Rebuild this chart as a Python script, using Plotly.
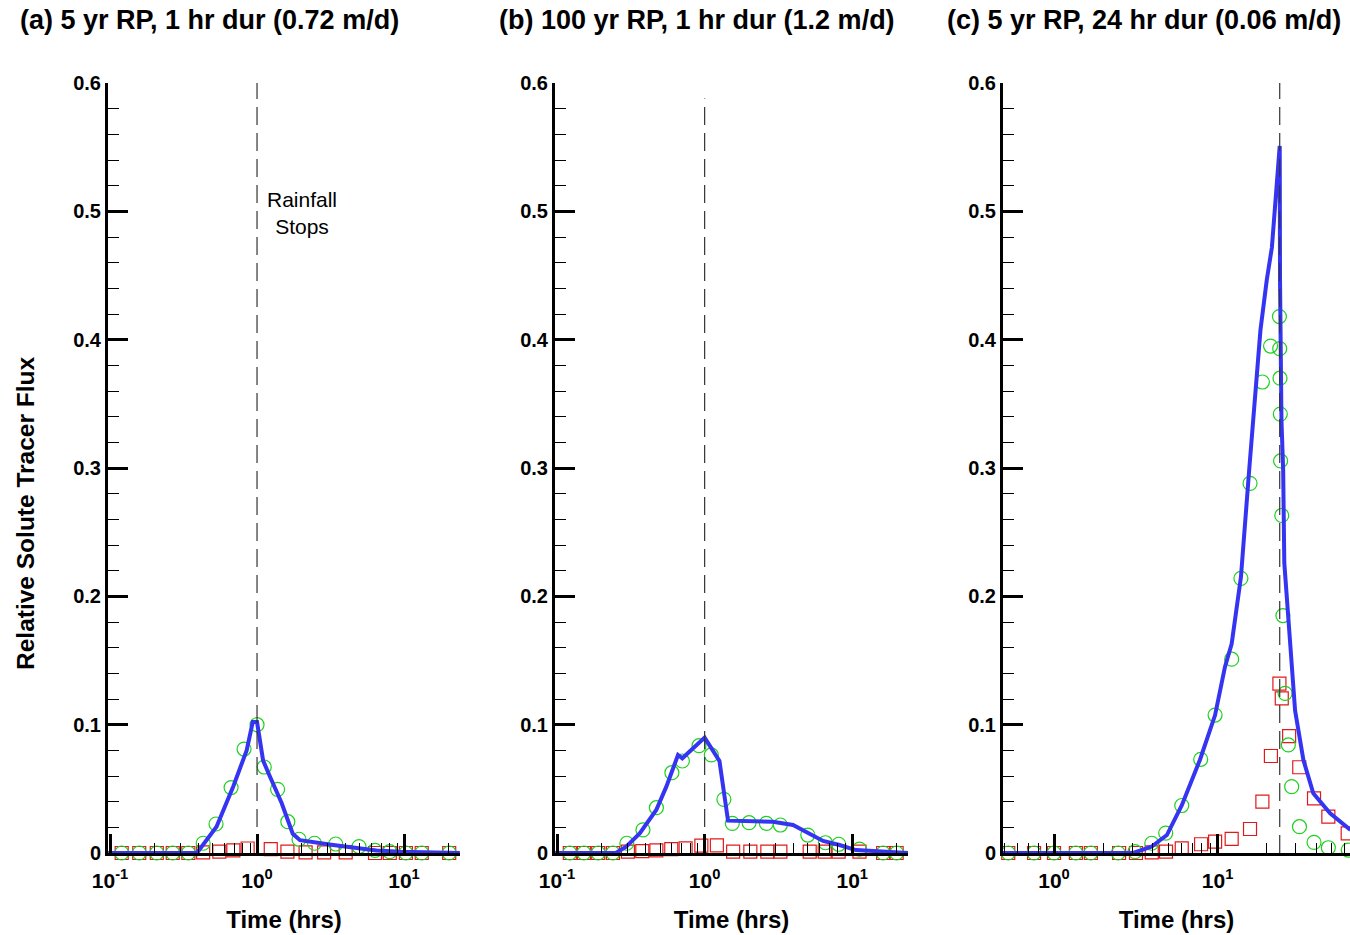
import plotly.graph_objects as go

# ---------------- DATA ----------------
panel_titles = [
    "(a) 5 yr RP, 1 hr dur (0.72 m/d)",
    "(b) 100 yr RP, 1 hr dur (1.2 m/d)",
    "(c) 5 yr RP, 24 hr dur (0.06 m/d)",
]
stop_times = [1.0, 1.0, 24.0]

# Panel (a)
a_circ_x = [0.12, 0.158, 0.208, 0.267, 0.341, 0.43, 0.526, 0.666, 0.816, 1.0, 1.12, 1.38, 1.62,
            1.93, 2.46, 3.43, 4.94, 6.35, 8.0, 10.3, 13.2, 20.3]
a_circ_y = [0, 0, 0, 0, 0, 0.0076, 0.0226, 0.051, 0.081, 0.100, 0.067, 0.0496, 0.0244,
            0.0107, 0.0076, 0.007, 0.005, 0.002, 0.001, 0, 0, 0]
a_sq_x = [0.12, 0.158, 0.208, 0.267, 0.341, 0.43, 0.554, 0.69, 0.863, 1.24, 1.61, 2.14, 2.86,
          4.01, 6.35, 8.0, 10.3, 13.2, 20.3]
a_sq_y = [0, 0, 0, 0, 0, 0.0005, 0.001, 0.002, 0.0035, 0.003, 0.001, 0.0005, 0.0005,
          0.0005, 0, 0, 0, 0, 0]
a_line_x = [0.097, 0.39, 0.53, 0.69, 0.85, 0.935, 1.0, 1.10, 1.23, 1.47, 1.75, 1.96, 3.3, 5.0,
            6.5, 9.4, 24.0]
a_line_y = [0, 0, 0.0205, 0.052, 0.080, 0.102, 0.102, 0.072, 0.059, 0.039, 0.015, 0.010,
            0.0062, 0.0036, 0.002, 0.001, 0]

# Panel (b)
b_circ_x = [0.122, 0.152, 0.19, 0.239, 0.297, 0.382, 0.471, 0.60, 0.706, 0.916, 1.11, 1.35,
            1.54, 2.0, 2.62, 3.26, 5.0, 6.58, 8.1, 11.2, 16.2, 20.0]
b_circ_y = [0, 0, 0, 0, 0.0076, 0.018, 0.0353, 0.0626, 0.0717, 0.0836, 0.0764, 0.0418,
            0.0231, 0.0236, 0.0231, 0.0218, 0.014, 0.008, 0.0068, 0.003, 0, 0]
b_sq_x = [0.122, 0.152, 0.19, 0.239, 0.302, 0.378, 0.471, 0.594, 0.743, 0.95, 1.21, 1.56,
          2.04, 2.66, 3.26, 5.15, 6.51, 8.09, 11.2, 16.2, 20.0]
b_sq_y = [0, 0, 0, 0, 0.001, 0.0015, 0.002, 0.003, 0.0036, 0.0057, 0.006, 0.001, 0.001,
          0.001, 0.001, 0.001, 0.001, 0.001, 0.001, 0, 0]
b_line_x = [0.097, 0.25, 0.294, 0.363, 0.47, 0.55, 0.66, 0.706, 1.0, 1.26, 1.44, 2.9, 3.97,
            6.35, 8.2, 10.6, 24.6]
b_line_y = [0, 0, 0.005, 0.0153, 0.0335, 0.0517, 0.0764, 0.0738, 0.0899, 0.0717, 0.0252,
            0.0244, 0.0218, 0.0094, 0.0062, 0.0023, 0]

# Panel (c)
c_circ_x = [0.525, 0.755, 1.0, 1.36, 1.68, 2.47, 3.13, 3.96, 4.82, 6.04, 7.89, 9.66, 12.2,
            13.9, 15.8, 18.8, 21.1, 23.9, 24.0, 24.1, 24.2, 24.3, 24.7, 25.1, 25.9, 27.1,
            28.4, 31.7, 38.9, 47.6, 63.0]
c_circ_y = [0, 0, 0, 0, 0, 0, 0.001, 0.0076, 0.0155, 0.037, 0.073, 0.1075, 0.151, 0.214,
            0.288, 0.367, 0.395, 0.418, 0.393, 0.370, 0.342, 0.3055, 0.263, 0.185, 0.1244,
            0.0842, 0.0517, 0.0205, 0.0083, 0.0041, 0.0023]
c_sq_x = [0.525, 0.755, 1.0, 1.36, 1.68, 2.5, 3.17, 3.96, 4.84, 6.04, 7.93, 9.66, 12.2, 15.8,
          18.8, 21.2, 23.9, 24.7, 27.4, 31.6, 38.9, 47.6, 62.5]
c_sq_y = [0, 0, 0, 0, 0, 0, 0, 0.0005, 0.001, 0.0036, 0.0068, 0.0088, 0.011, 0.0187, 0.040,
          0.0756, 0.132, 0.1205, 0.091, 0.0668, 0.0426, 0.0283, 0.0153]
c_line_x = [0.48, 3.05, 3.96, 4.9, 6.04, 7.8, 9.66, 11.1, 12.2, 13.9, 15.6, 18.3, 20.0, 21.5,
            24.0, 24.1, 24.6, 25.2, 25.6, 27.1, 28.4, 29.8, 33.5, 38.5, 48.8, 65.0]
c_line_y = [0, 0, 0.005, 0.014, 0.037, 0.0725, 0.1075, 0.145, 0.163, 0.215, 0.298, 0.4075,
            0.4465, 0.472, 0.551, 0.447, 0.337, 0.298, 0.226, 0.184, 0.143, 0.111, 0.0725,
            0.0465, 0.031, 0.018]

x_major_vals = [0.1, 1, 10]
x_major_text = ["10<sup>-1</sup>", "10<sup>0</sup>", "10<sup>1</sup>"]
decades = [0.01, 0.1, 1, 10, 100]
x_minor_vals = [k * d for d in decades for k in range(2, 10)]

# ---------------- STYLE / LAYOUT ----------------
W, H = 1350, 935
FONT = "Liberation Sans, Arial, Helvetica, sans-serif"
GREEN = "#1fd01f"
RED = "#e01a1a"
BLUE = "#3434f2"

x_px = [(108, 460), (555, 908), (1003, 1350)]
x_ranges = [[-1.014, 1.381], [-1.014, 1.378], [-0.312, 1.810]]
y_top_px, y_bot_px = 83, 853
ydom = [1 - y_bot_px / H, 1 - y_top_px / H]

panels = [
    (a_sq_x, a_sq_y, a_circ_x, a_circ_y, a_line_x, a_line_y),
    (b_sq_x, b_sq_y, b_circ_x, b_circ_y, b_line_x, b_line_y),
    (c_sq_x, c_sq_y, c_circ_x, c_circ_y, c_line_x, c_line_y),
]
dash_tops = [0.6, 0.588, 0.6]

fig = go.Figure()
for i, (sx, sy, cx, cy, lx, ly) in enumerate(panels):
    xa = "x" if i == 0 else f"x{i+1}"
    ya = "y" if i == 0 else f"y{i+1}"
    fig.add_trace(go.Scatter(x=sx, y=sy, mode="markers", xaxis=xa, yaxis=ya, cliponaxis=False,
                             marker=dict(symbol="square-open", size=13, color=RED,
                                         line=dict(width=1.2, color=RED)),
                             showlegend=False, hoverinfo="skip"))
    fig.add_trace(go.Scatter(x=cx, y=cy, mode="markers", xaxis=xa, yaxis=ya, cliponaxis=False,
                             marker=dict(symbol="circle-open", size=14, color=GREEN,
                                         line=dict(width=1.2, color=GREEN)),
                             showlegend=False, hoverinfo="skip"))
    fig.add_trace(go.Scatter(x=lx, y=ly, mode="lines", xaxis=xa, yaxis=ya,
                             line=dict(color=BLUE, width=4), showlegend=False, hoverinfo="skip"))
    fig.add_trace(go.Scatter(x=[stop_times[i], stop_times[i]], y=[0, dash_tops[i]], mode="lines",
                             xaxis=xa, yaxis=ya,
                             line=dict(color="#333333", width=1.2, dash="18px,8px"),
                             showlegend=False, hoverinfo="skip"))

    xkey = "xaxis" if i == 0 else f"xaxis{i+1}"
    ykey = "yaxis" if i == 0 else f"yaxis{i+1}"
    fig.layout[xkey] = dict(
        type="log", range=x_ranges[i], domain=[x_px[i][0] / W, x_px[i][1] / W], anchor=ya,
        showline=True, linewidth=3, linecolor="black", mirror=False,
        ticks="inside", ticklen=19, tickwidth=3, tickcolor="black",
        tickmode="array", tickvals=x_major_vals, ticktext=x_major_text,
        tickfont=dict(family=FONT, size=21, color="black", weight="bold"),
        ticklabelstandoff=7,
        minor=dict(ticks="inside", ticklen=10, tickwidth=1, tickcolor="black",
                   tickmode="array", tickvals=x_minor_vals, showgrid=False),
        showgrid=False, zeroline=False,
        title=dict(text="Time (hrs)", font=dict(family=FONT, size=24, color="black", weight="bold"),
                   standoff=20),
    )
    fig.layout[ykey] = dict(
        range=[0, 0.6], domain=ydom, anchor=xa,
        showline=True, linewidth=3, linecolor="black",
        ticks="inside", ticklen=20, tickwidth=3, tickcolor="black",
        tickmode="linear", tick0=0, dtick=0.1,
        tickfont=dict(family=FONT, size=20, color="black", weight="bold"),
        minor=dict(ticks="inside", ticklen=11, tickwidth=1, tickcolor="black", dtick=0.02,
                   tick0=0, showgrid=False),
        showgrid=False, zeroline=False,
    )

# shared y-axis label
fig.add_annotation(text="Relative Solute Tracer Flux", xref="paper", yref="paper",
                   x=25 / W, y=1 - 513 / H, xanchor="center", yanchor="middle",
                   textangle=-90, showarrow=False,
                   font=dict(family=FONT, size=24.5, color="black", weight="bold"))

title_x_px = [18, 497, 945]
for t, xp in zip(panel_titles, title_x_px):
    fig.add_annotation(text=t, xref="paper", yref="paper", x=xp / W, y=1 - 20 / H,
                       xanchor="left", yanchor="middle", showarrow=False,
                       font=dict(family=FONT, size=27, color="black", weight="bold"))

fig.add_annotation(text="Rainfall<br>Stops", xref="paper", yref="paper", x=301.5 / W, y=1 - 213 / H,
                   xanchor="center", yanchor="middle", showarrow=False, align="center",
                   font=dict(family=FONT, size=21, color="black"))

fig.update_layout(
    width=W, height=H,
    margin=dict(l=0, r=0, t=0, b=0, autoexpand=False),
    paper_bgcolor="white", plot_bgcolor="white",
    font=dict(family=FONT, color="black"),
)

fig.write_html("out.html")
